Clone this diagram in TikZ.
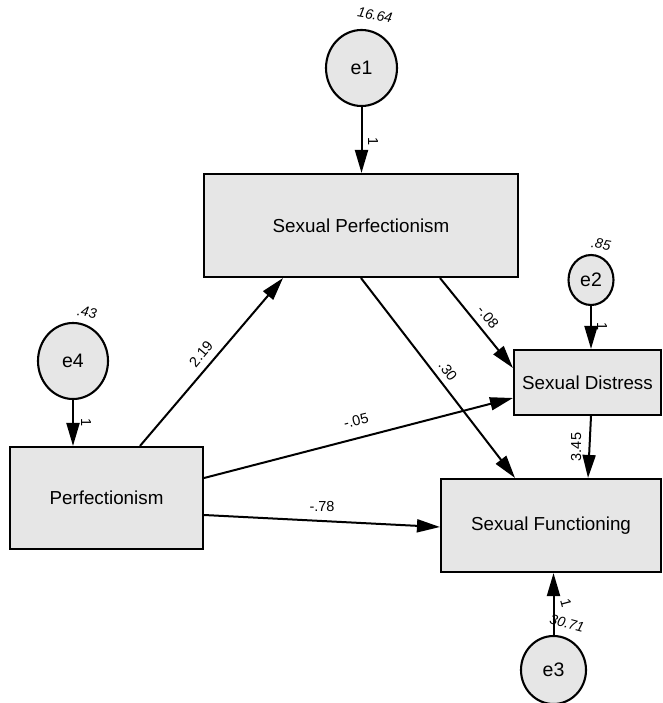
\documentclass[tikz,border=0pt]{standalone}
\usepackage{fontspec}
\setmainfont{Liberation Sans}
\usetikzlibrary{arrows.meta,shapes.geometric}
\definecolor{boxfill}{RGB}{230,230,230}
\begin{document}
\begin{tikzpicture}[x=1pt,y=-1pt,
  obsbox/.style={draw, line width=2.1pt, fill=boxfill, inner sep=0pt, font=\fontsize{18.8}{22}\selectfont},
  latent/.style={ellipse, draw, line width=2.1pt, fill=boxfill, inner sep=0pt, font=\fontsize{19.5}{22}\selectfont},
  arr/.style={line width=2pt, -{Triangle[length=23pt,width=13pt]}},
  lbl/.style={inner sep=0pt, font=\fontsize{14.5}{16}\selectfont},
  varlbl/.style={inner sep=0pt, font=\itshape\fontsize{14}{15}\selectfont}]
\useasboundingbox (0,0) rectangle (662,703);

% observed variables
\node[obsbox, minimum width=314pt, minimum height=103pt] (SP) at (361,225.5) {Sexual Perfectionism};
\node[obsbox, minimum width=193pt, minimum height=102pt] (P) at (106.5,498) {Perfectionism};
\node[obsbox, minimum width=147pt, minimum height=65pt] (SD) at (587.5,382.5) {Sexual Distress};
\node[obsbox, minimum width=220pt, minimum height=93pt] (SF) at (551,525.5) {Sexual Functioning};

% error terms
\node[latent, minimum width=71pt, minimum height=76pt] (e1) at (361.5,68) {e1};
\node[latent, minimum width=45pt, minimum height=50pt] (e2) at (591,280) {e2};
\node[latent, minimum width=70pt, minimum height=76pt] (e4) at (73,361) {e4};
\node[latent, minimum width=65pt, minimum height=68pt] (e3) at (553.5,670) {e3};

% paths
\draw[arr] (e1.south) -- (e1.south |- SP.north);
\draw[arr] (e2.south) -- (e2.south |- SD.north);
\draw[arr] (e4.south) -- (e4.south |- P.north);
\draw[arr] (e3.north) -- (e3.north |- SF.south);
\draw[arr] ([xshift=33.5pt]P.north) -- ([xshift=-78pt]SP.south);
\draw[arr] (SP.south) -- ([xshift=-36pt]SF.north);
\draw[arr] ([xshift=79pt]SP.south) -- ([yshift=14.5pt]SD.west);
\draw[arr] ([yshift=20pt]P.east) -- ([yshift=-15.5pt]SD.west);
\draw[arr] ([yshift=-17pt]P.east) -- ([yshift=-1.5pt]SF.west);
\draw[arr] ([xshift=3.5pt]SD.south) -- ([xshift=37pt]SF.north);

% regression weights
\node[lbl, rotate=50] (w1) at (201,354) {2.19};
\node[lbl, rotate=-53] (w2) at (448,371) {.30};
\node[lbl, rotate=-51] (w3) at (488,317) {-.08};
\node[lbl, rotate=14] (w4) at (356,421) {-.05};
\node[lbl] (w5) at (322,507) {-.78};
\node[lbl, rotate=90] (w6) at (576,447) {3.45};

% fixed paths
\node[lbl, rotate=-90] (f1) at (373,142) {1};
\node[lbl, rotate=-90] (f2) at (602,327) {1};
\node[lbl, rotate=-90] (f4) at (86,423) {1};
\node[lbl, rotate=-75] (f3) at (566,603) {1};

% variances
\node[varlbl, rotate=-10] (v1) at (375,15) {16.64};
\node[varlbl, rotate=-10] (v2) at (601,244) {.85};
\node[varlbl, rotate=-10] (v4) at (87,312) {.43};
\node[varlbl, rotate=-15] (v3) at (567,623) {30.71};
\end{tikzpicture}
\end{document}
